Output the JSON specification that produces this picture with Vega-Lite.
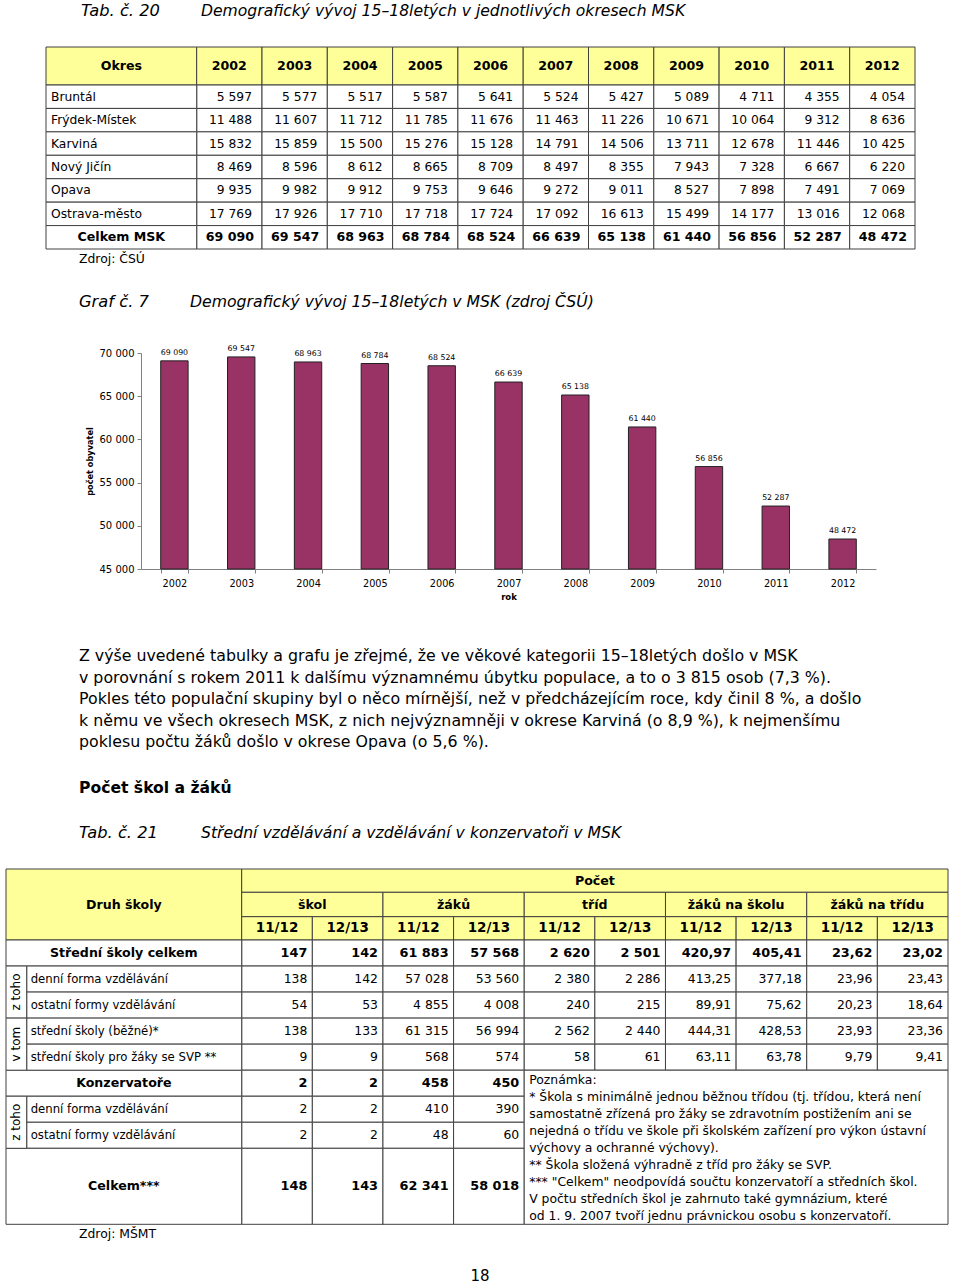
{
  "$schema": "https://vega.github.io/schema/vega-lite/v6.json",
  "width": 960,
  "height": 1286,
  "padding": 0,
  "autosize": {"type": "none"},
  "background": "#ffffff",
  "config": {
    "view": {"stroke": null},
    "font": "DejaVu Sans",
    "text": {"font": "DejaVu Sans", "color": "#000000", "baseline": "middle"},
    "locale": {"number": {"decimal": ",", "thousands": " ", "grouping": [3], "currency": ["", " Kč"]}}
  },
  "datasets": {
    "titulky": [
      {"cislo": "Tab. č. 20", "nazev": "Demografický vývoj 15–18letých v jednotlivých okresech MSK"},
      {"cislo": "Graf č. 7", "nazev": "Demografický vývoj 15–18letých v MSK (zdroj ČSÚ)"},
      {"cislo": "Tab. č. 21", "nazev": "Střední vzdělávání a vzdělávání v konzervatoři v MSK"}
    ],
    "zdroje": [{"zdroj": "Zdroj: ČSÚ"}, {"zdroj": "Zdroj: MŠMT"}],
    "nadpisy": [{"nadpis": "Počet škol a žáků"}],
    "strana": [{"strana": "18"}],
    "zahlavi20": [
      {"radek": "záhlaví", "sloupec": "Okres"},
      {"radek": "záhlaví", "sloupec": "2002"}, {"radek": "záhlaví", "sloupec": "2003"},
      {"radek": "záhlaví", "sloupec": "2004"}, {"radek": "záhlaví", "sloupec": "2005"},
      {"radek": "záhlaví", "sloupec": "2006"}, {"radek": "záhlaví", "sloupec": "2007"},
      {"radek": "záhlaví", "sloupec": "2008"}, {"radek": "záhlaví", "sloupec": "2009"},
      {"radek": "záhlaví", "sloupec": "2010"}, {"radek": "záhlaví", "sloupec": "2011"},
      {"radek": "záhlaví", "sloupec": "2012"}
    ],
    "t20": [
      {"okres": "Bruntál", "rok": "2002", "pocet": 5597}, {"okres": "Bruntál", "rok": "2003", "pocet": 5577},
      {"okres": "Bruntál", "rok": "2004", "pocet": 5517}, {"okres": "Bruntál", "rok": "2005", "pocet": 5587},
      {"okres": "Bruntál", "rok": "2006", "pocet": 5641}, {"okres": "Bruntál", "rok": "2007", "pocet": 5524},
      {"okres": "Bruntál", "rok": "2008", "pocet": 5427}, {"okres": "Bruntál", "rok": "2009", "pocet": 5089},
      {"okres": "Bruntál", "rok": "2010", "pocet": 4711}, {"okres": "Bruntál", "rok": "2011", "pocet": 4355},
      {"okres": "Bruntál", "rok": "2012", "pocet": 4054},
      {"okres": "Frýdek-Místek", "rok": "2002", "pocet": 11488}, {"okres": "Frýdek-Místek", "rok": "2003", "pocet": 11607},
      {"okres": "Frýdek-Místek", "rok": "2004", "pocet": 11712}, {"okres": "Frýdek-Místek", "rok": "2005", "pocet": 11785},
      {"okres": "Frýdek-Místek", "rok": "2006", "pocet": 11676}, {"okres": "Frýdek-Místek", "rok": "2007", "pocet": 11463},
      {"okres": "Frýdek-Místek", "rok": "2008", "pocet": 11226}, {"okres": "Frýdek-Místek", "rok": "2009", "pocet": 10671},
      {"okres": "Frýdek-Místek", "rok": "2010", "pocet": 10064}, {"okres": "Frýdek-Místek", "rok": "2011", "pocet": 9312},
      {"okres": "Frýdek-Místek", "rok": "2012", "pocet": 8636},
      {"okres": "Karviná", "rok": "2002", "pocet": 15832}, {"okres": "Karviná", "rok": "2003", "pocet": 15859},
      {"okres": "Karviná", "rok": "2004", "pocet": 15500}, {"okres": "Karviná", "rok": "2005", "pocet": 15276},
      {"okres": "Karviná", "rok": "2006", "pocet": 15128}, {"okres": "Karviná", "rok": "2007", "pocet": 14791},
      {"okres": "Karviná", "rok": "2008", "pocet": 14506}, {"okres": "Karviná", "rok": "2009", "pocet": 13711},
      {"okres": "Karviná", "rok": "2010", "pocet": 12678}, {"okres": "Karviná", "rok": "2011", "pocet": 11446},
      {"okres": "Karviná", "rok": "2012", "pocet": 10425},
      {"okres": "Nový Jičín", "rok": "2002", "pocet": 8469}, {"okres": "Nový Jičín", "rok": "2003", "pocet": 8596},
      {"okres": "Nový Jičín", "rok": "2004", "pocet": 8612}, {"okres": "Nový Jičín", "rok": "2005", "pocet": 8665},
      {"okres": "Nový Jičín", "rok": "2006", "pocet": 8709}, {"okres": "Nový Jičín", "rok": "2007", "pocet": 8497},
      {"okres": "Nový Jičín", "rok": "2008", "pocet": 8355}, {"okres": "Nový Jičín", "rok": "2009", "pocet": 7943},
      {"okres": "Nový Jičín", "rok": "2010", "pocet": 7328}, {"okres": "Nový Jičín", "rok": "2011", "pocet": 6667},
      {"okres": "Nový Jičín", "rok": "2012", "pocet": 6220},
      {"okres": "Opava", "rok": "2002", "pocet": 9935}, {"okres": "Opava", "rok": "2003", "pocet": 9982},
      {"okres": "Opava", "rok": "2004", "pocet": 9912}, {"okres": "Opava", "rok": "2005", "pocet": 9753},
      {"okres": "Opava", "rok": "2006", "pocet": 9646}, {"okres": "Opava", "rok": "2007", "pocet": 9272},
      {"okres": "Opava", "rok": "2008", "pocet": 9011}, {"okres": "Opava", "rok": "2009", "pocet": 8527},
      {"okres": "Opava", "rok": "2010", "pocet": 7898}, {"okres": "Opava", "rok": "2011", "pocet": 7491},
      {"okres": "Opava", "rok": "2012", "pocet": 7069},
      {"okres": "Ostrava-město", "rok": "2002", "pocet": 17769}, {"okres": "Ostrava-město", "rok": "2003", "pocet": 17926},
      {"okres": "Ostrava-město", "rok": "2004", "pocet": 17710}, {"okres": "Ostrava-město", "rok": "2005", "pocet": 17718},
      {"okres": "Ostrava-město", "rok": "2006", "pocet": 17724}, {"okres": "Ostrava-město", "rok": "2007", "pocet": 17092},
      {"okres": "Ostrava-město", "rok": "2008", "pocet": 16613}, {"okres": "Ostrava-město", "rok": "2009", "pocet": 15499},
      {"okres": "Ostrava-město", "rok": "2010", "pocet": 14177}, {"okres": "Ostrava-město", "rok": "2011", "pocet": 13016},
      {"okres": "Ostrava-město", "rok": "2012", "pocet": 12068},
      {"okres": "Celkem MSK", "rok": "2002", "pocet": 69090}, {"okres": "Celkem MSK", "rok": "2003", "pocet": 69547},
      {"okres": "Celkem MSK", "rok": "2004", "pocet": 68963}, {"okres": "Celkem MSK", "rok": "2005", "pocet": 68784},
      {"okres": "Celkem MSK", "rok": "2006", "pocet": 68524}, {"okres": "Celkem MSK", "rok": "2007", "pocet": 66639},
      {"okres": "Celkem MSK", "rok": "2008", "pocet": 65138}, {"okres": "Celkem MSK", "rok": "2009", "pocet": 61440},
      {"okres": "Celkem MSK", "rok": "2010", "pocet": 56856}, {"okres": "Celkem MSK", "rok": "2011", "pocet": 52287},
      {"okres": "Celkem MSK", "rok": "2012", "pocet": 48472}
    ],
    "odstavec": [
      {"odstavec": 1, "radek": 1, "text": "Z výše uvedené tabulky a grafu je zřejmé, že ve věkové kategorii 15–18letých došlo v MSK"},
      {"odstavec": 1, "radek": 2, "text": "v porovnání s rokem 2011 k dalšímu významnému úbytku populace, a to o 3 815 osob (7,3 %)."},
      {"odstavec": 1, "radek": 3, "text": "Pokles této populační skupiny byl o něco mírnější, než v předcházejícím roce, kdy činil 8 %, a došlo"},
      {"odstavec": 1, "radek": 4, "text": "k němu ve všech okresech MSK, z nich nejvýznamněji v okrese Karviná (o 8,9 %), k nejmenšímu"},
      {"odstavec": 1, "radek": 5, "text": "poklesu počtu žáků došlo v okrese Opava (o 5,6 %)."}
    ],
    "zahlavi21": [{"zahlavi": "Druh školy"}, {"zahlavi": "Počet"}],
    "ukazatele21": [
      {"uroven": "ukazatel", "ukazatel": "škol"}, {"uroven": "ukazatel", "ukazatel": "žáků"},
      {"uroven": "ukazatel", "ukazatel": "tříd"}, {"uroven": "ukazatel", "ukazatel": "žáků na školu"},
      {"uroven": "ukazatel", "ukazatel": "žáků na třídu"}
    ],
    "obdobi21": [
      {"uroven": "období", "sloupec": "škol 11/12", "obdobi": "11/12"}, {"uroven": "období", "sloupec": "škol 12/13", "obdobi": "12/13"},
      {"uroven": "období", "sloupec": "žáků 11/12", "obdobi": "11/12"}, {"uroven": "období", "sloupec": "žáků 12/13", "obdobi": "12/13"},
      {"uroven": "období", "sloupec": "tříd 11/12", "obdobi": "11/12"}, {"uroven": "období", "sloupec": "tříd 12/13", "obdobi": "12/13"},
      {"uroven": "období", "sloupec": "žáků na školu 11/12", "obdobi": "11/12"}, {"uroven": "období", "sloupec": "žáků na školu 12/13", "obdobi": "12/13"},
      {"uroven": "období", "sloupec": "žáků na třídu 11/12", "obdobi": "11/12"}, {"uroven": "období", "sloupec": "žáků na třídu 12/13", "obdobi": "12/13"}
    ],
    "druhy21": [
      {"radek": 1, "celek": "Střední školy", "druh": "Střední školy celkem"},
      {"radek": 2, "celek": "Střední školy", "cleneni": "z toho", "druh": "denní forma vzdělávání"},
      {"radek": 3, "celek": "Střední školy", "cleneni": "z toho", "druh": "ostatní formy vzdělávání"},
      {"radek": 4, "celek": "Střední školy", "cleneni": "v tom", "druh": "střední školy (běžné)*"},
      {"radek": 5, "celek": "Střední školy", "cleneni": "v tom", "druh": "střední školy pro žáky se SVP **"},
      {"radek": 6, "celek": "Konzervatoře", "druh": "Konzervatoře"},
      {"radek": 7, "celek": "Konzervatoře", "cleneni": "z toho", "druh": "denní forma vzdělávání"},
      {"radek": 8, "celek": "Konzervatoře", "cleneni": "z toho", "druh": "ostatní formy vzdělávání"},
      {"radek": 9, "celek": "Celkem", "druh": "Celkem***"}
    ],
    "t21": [
      {"radek": 1, "sloupec": "škol 11/12", "hodnota": 147}, {"radek": 1, "sloupec": "škol 12/13", "hodnota": 142},
      {"radek": 1, "sloupec": "žáků 11/12", "hodnota": 61883}, {"radek": 1, "sloupec": "žáků 12/13", "hodnota": 57568},
      {"radek": 1, "sloupec": "tříd 11/12", "hodnota": 2620}, {"radek": 1, "sloupec": "tříd 12/13", "hodnota": 2501},
      {"radek": 1, "sloupec": "žáků na školu 11/12", "hodnota": 420.97}, {"radek": 1, "sloupec": "žáků na školu 12/13", "hodnota": 405.41},
      {"radek": 1, "sloupec": "žáků na třídu 11/12", "hodnota": 23.62}, {"radek": 1, "sloupec": "žáků na třídu 12/13", "hodnota": 23.02},
      {"radek": 2, "sloupec": "škol 11/12", "hodnota": 138}, {"radek": 2, "sloupec": "škol 12/13", "hodnota": 142},
      {"radek": 2, "sloupec": "žáků 11/12", "hodnota": 57028}, {"radek": 2, "sloupec": "žáků 12/13", "hodnota": 53560},
      {"radek": 2, "sloupec": "tříd 11/12", "hodnota": 2380}, {"radek": 2, "sloupec": "tříd 12/13", "hodnota": 2286},
      {"radek": 2, "sloupec": "žáků na školu 11/12", "hodnota": 413.25}, {"radek": 2, "sloupec": "žáků na školu 12/13", "hodnota": 377.18},
      {"radek": 2, "sloupec": "žáků na třídu 11/12", "hodnota": 23.96}, {"radek": 2, "sloupec": "žáků na třídu 12/13", "hodnota": 23.43},
      {"radek": 3, "sloupec": "škol 11/12", "hodnota": 54}, {"radek": 3, "sloupec": "škol 12/13", "hodnota": 53},
      {"radek": 3, "sloupec": "žáků 11/12", "hodnota": 4855}, {"radek": 3, "sloupec": "žáků 12/13", "hodnota": 4008},
      {"radek": 3, "sloupec": "tříd 11/12", "hodnota": 240}, {"radek": 3, "sloupec": "tříd 12/13", "hodnota": 215},
      {"radek": 3, "sloupec": "žáků na školu 11/12", "hodnota": 89.91}, {"radek": 3, "sloupec": "žáků na školu 12/13", "hodnota": 75.62},
      {"radek": 3, "sloupec": "žáků na třídu 11/12", "hodnota": 20.23}, {"radek": 3, "sloupec": "žáků na třídu 12/13", "hodnota": 18.64},
      {"radek": 4, "sloupec": "škol 11/12", "hodnota": 138}, {"radek": 4, "sloupec": "škol 12/13", "hodnota": 133},
      {"radek": 4, "sloupec": "žáků 11/12", "hodnota": 61315}, {"radek": 4, "sloupec": "žáků 12/13", "hodnota": 56994},
      {"radek": 4, "sloupec": "tříd 11/12", "hodnota": 2562}, {"radek": 4, "sloupec": "tříd 12/13", "hodnota": 2440},
      {"radek": 4, "sloupec": "žáků na školu 11/12", "hodnota": 444.31}, {"radek": 4, "sloupec": "žáků na školu 12/13", "hodnota": 428.53},
      {"radek": 4, "sloupec": "žáků na třídu 11/12", "hodnota": 23.93}, {"radek": 4, "sloupec": "žáků na třídu 12/13", "hodnota": 23.36},
      {"radek": 5, "sloupec": "škol 11/12", "hodnota": 9}, {"radek": 5, "sloupec": "škol 12/13", "hodnota": 9},
      {"radek": 5, "sloupec": "žáků 11/12", "hodnota": 568}, {"radek": 5, "sloupec": "žáků 12/13", "hodnota": 574},
      {"radek": 5, "sloupec": "tříd 11/12", "hodnota": 58}, {"radek": 5, "sloupec": "tříd 12/13", "hodnota": 61},
      {"radek": 5, "sloupec": "žáků na školu 11/12", "hodnota": 63.11}, {"radek": 5, "sloupec": "žáků na školu 12/13", "hodnota": 63.78},
      {"radek": 5, "sloupec": "žáků na třídu 11/12", "hodnota": 9.79}, {"radek": 5, "sloupec": "žáků na třídu 12/13", "hodnota": 9.41},
      {"radek": 6, "sloupec": "škol 11/12", "hodnota": 2}, {"radek": 6, "sloupec": "škol 12/13", "hodnota": 2},
      {"radek": 6, "sloupec": "žáků 11/12", "hodnota": 458}, {"radek": 6, "sloupec": "žáků 12/13", "hodnota": 450},
      {"radek": 7, "sloupec": "škol 11/12", "hodnota": 2}, {"radek": 7, "sloupec": "škol 12/13", "hodnota": 2},
      {"radek": 7, "sloupec": "žáků 11/12", "hodnota": 410}, {"radek": 7, "sloupec": "žáků 12/13", "hodnota": 390},
      {"radek": 8, "sloupec": "škol 11/12", "hodnota": 2}, {"radek": 8, "sloupec": "škol 12/13", "hodnota": 2},
      {"radek": 8, "sloupec": "žáků 11/12", "hodnota": 48}, {"radek": 8, "sloupec": "žáků 12/13", "hodnota": 60},
      {"radek": 9, "sloupec": "škol 11/12", "hodnota": 148}, {"radek": 9, "sloupec": "škol 12/13", "hodnota": 143},
      {"radek": 9, "sloupec": "žáků 11/12", "hodnota": 62341}, {"radek": 9, "sloupec": "žáků 12/13", "hodnota": 58018}
    ],
    "poznamka": [
      {"blok": "Poznámka", "radek": 1, "text": "Poznámka:"},
      {"blok": "Poznámka", "radek": 2, "text": "* Škola s minimálně jednou běžnou třídou (tj. třídou, která není"},
      {"blok": "Poznámka", "radek": 3, "text": "samostatně zřízená pro žáky se zdravotním postižením ani se"},
      {"blok": "Poznámka", "radek": 4, "text": "nejedná o třídu ve škole při školském zařízení pro výkon ústavní"},
      {"blok": "Poznámka", "radek": 5, "text": "výchovy a ochranné výchovy)."},
      {"blok": "Poznámka", "radek": 6, "text": "** Škola složená výhradně z tříd pro žáky se SVP."},
      {"blok": "Poznámka", "radek": 7, "text": "*** \"Celkem\" neodpovídá součtu konzervatoří a středních škol."},
      {"blok": "Poznámka", "radek": 8, "text": "V počtu středních škol je zahrnuto také gymnázium, které"},
      {"blok": "Poznámka", "radek": 9, "text": "od 1. 9. 2007 tvoří jednu právnickou osobu s konzervatoří."}
    ]
  },
  "resolve": {"scale": {"x": "independent", "y": "independent"}},
  "layer": [
    {
      "data": {"name": "titulky"},
      "transform": [{"filter": "datum.cislo === 'Tab. č. 20'"}],
      "encoding": {"y": {"field": "cislo", "type": "nominal", "scale": {"type": "band", "domain": ["Tab. č. 20"], "range": [0, 22], "padding": 0}, "axis": null}},
      "layer": [
        {"mark": {"type": "text", "align": "left", "fontStyle": "italic", "fontSize": 16.3},
         "encoding": {"x": {"field": "cislo", "type": "nominal", "bandPosition": 0, "scale": {"type": "band", "domain": ["Tab. č. 20"], "range": [81, 201], "padding": 0}, "axis": null}, "text": {"field": "cislo"}}},
        {"mark": {"type": "text", "align": "left", "fontStyle": "italic", "fontSize": 15.6},
         "encoding": {"x": {"field": "cislo", "type": "nominal", "bandPosition": 0, "scale": {"type": "band", "domain": ["Tab. č. 20"], "range": [201, 900], "padding": 0}, "axis": null}, "text": {"field": "nazev"}}}
      ],
      "resolve": {"scale": {"x": "independent"}}
    },
    {
      "data": {"name": "zahlavi20"},
      "transform": [{"filter": "datum.sloupec === 'Okres'"}],
      "encoding": {
        "x": {"field": "sloupec", "type": "nominal", "scale": {"type": "band", "domain": ["Okres"], "range": [46, 196.7], "padding": 0}, "axis": null},
        "y": {"field": "radek", "type": "nominal", "scale": {"type": "band", "domain": ["záhlaví"], "range": [47, 85], "padding": 0}, "axis": null}
      },
      "layer": [
        {"mark": {"type": "rect", "fill": "#FFFF99", "stroke": "#404040", "strokeWidth": 1}},
        {"mark": {"type": "text", "fontWeight": "bold", "fontSize": 12.6}, "encoding": {"text": {"field": "sloupec"}}}
      ]
    },
    {
      "data": {"name": "zahlavi20"},
      "transform": [{"filter": "datum.sloupec !== 'Okres'"}],
      "encoding": {
        "x": {"field": "sloupec", "type": "nominal", "scale": {"type": "band", "domain": ["2002","2003","2004","2005","2006","2007","2008","2009","2010","2011","2012"], "range": [196.7, 915], "padding": 0}, "axis": null},
        "y": {"field": "radek", "type": "nominal", "scale": {"type": "band", "domain": ["záhlaví"], "range": [47, 85], "padding": 0}, "axis": null}
      },
      "layer": [
        {"mark": {"type": "rect", "fill": "#FFFF99", "stroke": "#404040", "strokeWidth": 1}},
        {"mark": {"type": "text", "fontWeight": "bold", "fontSize": 12.6}, "encoding": {"text": {"field": "sloupec"}}}
      ]
    },
    {
      "data": {"name": "t20"},
      "encoding": {
        "x": {"field": "rok", "type": "nominal", "scale": {"type": "band", "domain": ["2002","2003","2004","2005","2006","2007","2008","2009","2010","2011","2012"], "range": [196.7, 915], "padding": 0}, "axis": null},
        "y": {"field": "okres", "type": "nominal", "scale": {"type": "band", "domain": ["Bruntál","Frýdek-Místek","Karviná","Nový Jičín","Opava","Ostrava-město","Celkem MSK"], "range": [85, 249], "padding": 0}, "axis": null}
      },
      "layer": [
        {"mark": {"type": "rect", "fill": "#ffffff", "stroke": "#404040", "strokeWidth": 1}},
        {"transform": [{"filter": "datum.okres !== 'Celkem MSK'"}],
         "mark": {"type": "text", "align": "right", "dx": -10, "fontSize": 12.3},
         "encoding": {
           "x": {"field": "rok", "type": "nominal", "bandPosition": 1, "scale": {"type": "band", "domain": ["2002","2003","2004","2005","2006","2007","2008","2009","2010","2011","2012"], "range": [196.7, 915], "padding": 0}, "axis": null},
           "text": {"field": "pocet", "type": "quantitative", "format": ",d"}}},
        {"transform": [{"filter": "datum.okres === 'Celkem MSK'"}],
         "mark": {"type": "text", "align": "right", "dx": -8, "fontSize": 12.6, "fontWeight": "bold"},
         "encoding": {
           "x": {"field": "rok", "type": "nominal", "bandPosition": 1, "scale": {"type": "band", "domain": ["2002","2003","2004","2005","2006","2007","2008","2009","2010","2011","2012"], "range": [196.7, 915], "padding": 0}, "axis": null},
           "text": {"field": "pocet", "type": "quantitative", "format": ",d"}}}
      ]
    },
    {
      "data": {"name": "t20"},
      "transform": [
        {"aggregate": [{"op": "count", "as": "pocet_let"}], "groupby": ["okres"]},
        {"fold": ["okres"], "as": ["sloupec", "nazev"]}
      ],
      "encoding": {
        "x": {"field": "sloupec", "type": "nominal", "scale": {"type": "band", "domain": ["okres"], "range": [46, 196.7], "padding": 0}, "axis": null},
        "y": {"field": "nazev", "type": "nominal", "scale": {"type": "band", "domain": ["Bruntál","Frýdek-Místek","Karviná","Nový Jičín","Opava","Ostrava-město","Celkem MSK"], "range": [85, 249], "padding": 0}, "axis": null}
      },
      "layer": [
        {"mark": {"type": "rect", "fill": "#ffffff", "stroke": "#404040", "strokeWidth": 1}},
        {"transform": [{"filter": "datum.nazev !== 'Celkem MSK'"}],
         "mark": {"type": "text", "align": "left", "dx": 5, "fontSize": 12.3},
         "encoding": {
           "x": {"field": "sloupec", "type": "nominal", "bandPosition": 0, "scale": {"type": "band", "domain": ["okres"], "range": [46, 196.7], "padding": 0}, "axis": null},
           "text": {"field": "nazev"}}},
        {"transform": [{"filter": "datum.nazev === 'Celkem MSK'"}],
         "mark": {"type": "text", "fontSize": 12.6, "fontWeight": "bold"},
         "encoding": {"text": {"field": "nazev"}}}
      ]
    },
    {
      "data": {"name": "zdroje"},
      "transform": [{"filter": "datum.zdroj === 'Zdroj: ČSÚ'"}],
      "mark": {"type": "text", "align": "left", "fontSize": 12.4},
      "encoding": {
        "x": {"field": "zdroj", "type": "nominal", "bandPosition": 0, "scale": {"type": "band", "domain": ["Zdroj: ČSÚ"], "range": [79, 300], "padding": 0}, "axis": null},
        "y": {"field": "zdroj", "type": "nominal", "scale": {"type": "band", "domain": ["Zdroj: ČSÚ"], "range": [249, 269], "padding": 0}, "axis": null},
        "text": {"field": "zdroj"}
      }
    },
    {
      "data": {"name": "titulky"},
      "transform": [{"filter": "datum.cislo === 'Graf č. 7'"}],
      "encoding": {"y": {"field": "cislo", "type": "nominal", "scale": {"type": "band", "domain": ["Graf č. 7"], "range": [291, 313], "padding": 0}, "axis": null}},
      "layer": [
        {"mark": {"type": "text", "align": "left", "fontStyle": "italic", "fontSize": 16.3},
         "encoding": {"x": {"field": "cislo", "type": "nominal", "bandPosition": 0, "scale": {"type": "band", "domain": ["Graf č. 7"], "range": [79, 190], "padding": 0}, "axis": null}, "text": {"field": "cislo"}}},
        {"mark": {"type": "text", "align": "left", "fontStyle": "italic", "fontSize": 15.7},
         "encoding": {"x": {"field": "cislo", "type": "nominal", "bandPosition": 0, "scale": {"type": "band", "domain": ["Graf č. 7"], "range": [190, 900], "padding": 0}, "axis": null}, "text": {"field": "nazev"}}}
      ],
      "resolve": {"scale": {"x": "independent"}}
    },
    {
      "data": {"name": "t20"},
      "transform": [{"filter": "datum.okres === 'Celkem MSK'"}],
      "encoding": {
        "x": {"field": "rok", "type": "nominal",
              "scale": {"type": "band", "domain": ["2002","2003","2004","2005","2006","2007","2008","2009","2010","2011","2012"], "range": [141, 876], "paddingInner": 0.59, "paddingOuter": 0.295},
              "axis": {"orient": "bottom", "offset": -717, "title": "rok", "labelAngle": 0, "labelFontSize": 9.7, "labelPadding": 5, "labelColor": "#000000",
                       "tickSize": 4, "tickBand": "extent", "tickColor": "#808080", "domainColor": "#808080",
                       "titleFontSize": 8.5, "titleFontWeight": "bold", "titlePadding": 5, "titleColor": "#000000", "grid": false}},
        "y": {"field": "pocet", "type": "quantitative",
              "scale": {"domain": [45000, 70000], "range": [569, 353], "zero": false, "nice": false},
              "axis": {"orient": "left", "offset": -141, "values": [45000, 50000, 55000, 60000, 65000, 70000], "format": ",d",
                       "labelFontSize": 10, "labelPadding": 3, "labelColor": "#000000", "tickSize": 4, "tickColor": "#808080", "domainColor": "#808080",
                       "title": "počet obyvatel", "titleFontSize": 8.2, "titleFontWeight": "bold", "titlePadding": 5, "titleColor": "#000000", "grid": false}}
      },
      "layer": [
        {"mark": {"type": "bar", "fill": "#993366", "stroke": "#222222", "strokeWidth": 1}, "encoding": {"y2": {"datum": 45000}}},
        {"mark": {"type": "text", "baseline": "bottom", "dy": -4, "fontSize": 7.8}, "encoding": {"text": {"field": "pocet", "type": "quantitative", "format": ",d"}}}
      ]
    },
    {
      "data": {"name": "odstavec"},
      "mark": {"type": "text", "align": "left", "fontSize": 15.8},
      "encoding": {
        "x": {"field": "odstavec", "type": "nominal", "bandPosition": 0, "scale": {"type": "band", "domain": [1], "range": [79, 882], "padding": 0}, "axis": null},
        "y": {"field": "radek", "type": "ordinal", "scale": {"type": "band", "domain": [1, 2, 3, 4, 5], "range": [645.25, 752.75], "padding": 0}, "axis": null},
        "text": {"field": "text"}
      }
    },
    {
      "data": {"name": "nadpisy"},
      "mark": {"type": "text", "align": "left", "fontSize": 15.6, "fontWeight": "bold"},
      "encoding": {
        "x": {"field": "nadpis", "type": "nominal", "bandPosition": 0, "scale": {"type": "band", "domain": ["Počet škol a žáků"], "range": [79, 400], "padding": 0}, "axis": null},
        "y": {"field": "nadpis", "type": "nominal", "scale": {"type": "band", "domain": ["Počet škol a žáků"], "range": [777, 799], "padding": 0}, "axis": null},
        "text": {"field": "nadpis"}
      }
    },
    {
      "data": {"name": "titulky"},
      "transform": [{"filter": "datum.cislo === 'Tab. č. 21'"}],
      "encoding": {"y": {"field": "cislo", "type": "nominal", "scale": {"type": "band", "domain": ["Tab. č. 21"], "range": [822, 844], "padding": 0}, "axis": null}},
      "layer": [
        {"mark": {"type": "text", "align": "left", "fontStyle": "italic", "fontSize": 16.3},
         "encoding": {"x": {"field": "cislo", "type": "nominal", "bandPosition": 0, "scale": {"type": "band", "domain": ["Tab. č. 21"], "range": [79, 201], "padding": 0}, "axis": null}, "text": {"field": "cislo"}}},
        {"mark": {"type": "text", "align": "left", "fontStyle": "italic", "fontSize": 15.7},
         "encoding": {"x": {"field": "cislo", "type": "nominal", "bandPosition": 0, "scale": {"type": "band", "domain": ["Tab. č. 21"], "range": [201, 900], "padding": 0}, "axis": null}, "text": {"field": "nazev"}}}
      ],
      "resolve": {"scale": {"x": "independent"}}
    },
    {
      "data": {"name": "zahlavi21"},
      "transform": [{"filter": "datum.zahlavi === 'Druh školy'"}],
      "encoding": {
        "x": {"field": "zahlavi", "type": "nominal", "scale": {"type": "band", "domain": ["Druh školy"], "range": [6, 241.7], "padding": 0}, "axis": null},
        "y": {"field": "zahlavi", "type": "nominal", "scale": {"type": "band", "domain": ["Druh školy"], "range": [869, 940], "padding": 0}, "axis": null}
      },
      "layer": [
        {"mark": {"type": "rect", "fill": "#FFFF99", "stroke": "#404040", "strokeWidth": 1}},
        {"mark": {"type": "text", "fontWeight": "bold", "fontSize": 12.6}, "encoding": {"text": {"field": "zahlavi"}}}
      ]
    },
    {
      "data": {"name": "zahlavi21"},
      "transform": [{"filter": "datum.zahlavi === 'Počet'"}],
      "encoding": {
        "x": {"field": "zahlavi", "type": "nominal", "scale": {"type": "band", "domain": ["Počet"], "range": [241.7, 948], "padding": 0}, "axis": null},
        "y": {"field": "zahlavi", "type": "nominal", "scale": {"type": "band", "domain": ["Počet"], "range": [869, 892.3], "padding": 0}, "axis": null}
      },
      "layer": [
        {"mark": {"type": "rect", "fill": "#FFFF99", "stroke": "#404040", "strokeWidth": 1}},
        {"mark": {"type": "text", "fontWeight": "bold", "fontSize": 12.6}, "encoding": {"text": {"field": "zahlavi"}}}
      ]
    },
    {
      "data": {"name": "ukazatele21"},
      "encoding": {
        "x": {"field": "ukazatel", "type": "nominal", "scale": {"type": "band", "domain": ["škol", "žáků", "tříd", "žáků na školu", "žáků na třídu"], "range": [241.7, 948], "padding": 0}, "axis": null},
        "y": {"field": "uroven", "type": "nominal", "scale": {"type": "band", "domain": ["ukazatel"], "range": [892.3, 916.7], "padding": 0}, "axis": null}
      },
      "layer": [
        {"mark": {"type": "rect", "fill": "#FFFF99", "stroke": "#404040", "strokeWidth": 1}},
        {"mark": {"type": "text", "fontWeight": "bold", "fontSize": 12.6}, "encoding": {"text": {"field": "ukazatel"}}}
      ]
    },
    {
      "data": {"name": "obdobi21"},
      "encoding": {
        "x": {"field": "sloupec", "type": "nominal", "scale": {"type": "band", "domain": ["škol 11/12","škol 12/13","žáků 11/12","žáků 12/13","tříd 11/12","tříd 12/13","žáků na školu 11/12","žáků na školu 12/13","žáků na třídu 11/12","žáků na třídu 12/13"], "range": [241.7, 948], "padding": 0}, "axis": null},
        "y": {"field": "uroven", "type": "nominal", "scale": {"type": "band", "domain": ["období"], "range": [916.7, 940], "padding": 0}, "axis": null}
      },
      "layer": [
        {"mark": {"type": "rect", "fill": "#FFFF99", "stroke": "#404040", "strokeWidth": 1}},
        {"mark": {"type": "text", "fontWeight": "bold", "fontSize": 13.5}, "encoding": {"text": {"field": "obdobi"}}}
      ]
    },
    {
      "data": {"name": "t21"},
      "transform": [{"filter": "datum.radek <= 8"}],
      "encoding": {
        "x": {"field": "sloupec", "type": "nominal", "scale": {"type": "band", "domain": ["škol 11/12","škol 12/13","žáků 11/12","žáků 12/13","tříd 11/12","tříd 12/13","žáků na školu 11/12","žáků na školu 12/13","žáků na třídu 11/12","žáků na třídu 12/13"], "range": [241.7, 948], "padding": 0}, "axis": null},
        "y": {"field": "radek", "type": "ordinal", "scale": {"type": "band", "domain": [1, 2, 3, 4, 5, 6, 7, 8], "range": [940, 1148.3], "padding": 0}, "axis": null}
      },
      "layer": [
        {"mark": {"type": "rect", "fill": "#ffffff", "stroke": "#404040", "strokeWidth": 1}},
        {"transform": [{"filter": "datum.radek !== 1 && datum.radek !== 6 && indexof(datum.sloupec, ' na ') < 0"}],
         "mark": {"type": "text", "align": "right", "dx": -5, "fontSize": 12.4},
         "encoding": {
           "x": {"field": "sloupec", "type": "nominal", "bandPosition": 1, "scale": {"type": "band", "domain": ["škol 11/12","škol 12/13","žáků 11/12","žáků 12/13","tříd 11/12","tříd 12/13","žáků na školu 11/12","žáků na školu 12/13","žáků na třídu 11/12","žáků na třídu 12/13"], "range": [241.7, 948], "padding": 0}, "axis": null},
           "text": {"field": "hodnota", "type": "quantitative", "format": ",d"}}},
        {"transform": [{"filter": "datum.radek !== 1 && datum.radek !== 6 && indexof(datum.sloupec, ' na ') >= 0"}],
         "mark": {"type": "text", "align": "right", "dx": -5, "fontSize": 12.4},
         "encoding": {
           "x": {"field": "sloupec", "type": "nominal", "bandPosition": 1, "scale": {"type": "band", "domain": ["škol 11/12","škol 12/13","žáků 11/12","žáků 12/13","tříd 11/12","tříd 12/13","žáků na školu 11/12","žáků na školu 12/13","žáků na třídu 11/12","žáků na třídu 12/13"], "range": [241.7, 948], "padding": 0}, "axis": null},
           "text": {"field": "hodnota", "type": "quantitative", "format": ".2f"}}},
        {"transform": [{"filter": "(datum.radek === 1 || datum.radek === 6) && indexof(datum.sloupec, ' na ') < 0"}],
         "mark": {"type": "text", "align": "right", "dx": -5, "fontSize": 12.8, "fontWeight": "bold"},
         "encoding": {
           "x": {"field": "sloupec", "type": "nominal", "bandPosition": 1, "scale": {"type": "band", "domain": ["škol 11/12","škol 12/13","žáků 11/12","žáků 12/13","tříd 11/12","tříd 12/13","žáků na školu 11/12","žáků na školu 12/13","žáků na třídu 11/12","žáků na třídu 12/13"], "range": [241.7, 948], "padding": 0}, "axis": null},
           "text": {"field": "hodnota", "type": "quantitative", "format": ",d"}}},
        {"transform": [{"filter": "(datum.radek === 1 || datum.radek === 6) && indexof(datum.sloupec, ' na ') >= 0"}],
         "mark": {"type": "text", "align": "right", "dx": -5, "fontSize": 12.8, "fontWeight": "bold"},
         "encoding": {
           "x": {"field": "sloupec", "type": "nominal", "bandPosition": 1, "scale": {"type": "band", "domain": ["škol 11/12","škol 12/13","žáků 11/12","žáků 12/13","tříd 11/12","tříd 12/13","žáků na školu 11/12","žáků na školu 12/13","žáků na třídu 11/12","žáků na třídu 12/13"], "range": [241.7, 948], "padding": 0}, "axis": null},
           "text": {"field": "hodnota", "type": "quantitative", "format": ".2f"}}}
      ]
    },
    {
      "data": {"name": "t21"},
      "transform": [{"filter": "datum.radek === 9"}],
      "encoding": {
        "x": {"field": "sloupec", "type": "nominal", "scale": {"type": "band", "domain": ["škol 11/12","škol 12/13","žáků 11/12","žáků 12/13","tříd 11/12","tříd 12/13","žáků na školu 11/12","žáků na školu 12/13","žáků na třídu 11/12","žáků na třídu 12/13"], "range": [241.7, 948], "padding": 0}, "axis": null},
        "y": {"field": "radek", "type": "ordinal", "scale": {"type": "band", "domain": [9], "range": [1148.3, 1224.3], "padding": 0}, "axis": null}
      },
      "layer": [
        {"mark": {"type": "rect", "fill": "#ffffff", "stroke": "#404040", "strokeWidth": 1}},
        {"mark": {"type": "text", "align": "right", "dx": -5, "fontSize": 12.8, "fontWeight": "bold"},
         "encoding": {
           "x": {"field": "sloupec", "type": "nominal", "bandPosition": 1, "scale": {"type": "band", "domain": ["škol 11/12","škol 12/13","žáků 11/12","žáků 12/13","tříd 11/12","tříd 12/13","žáků na školu 11/12","žáků na školu 12/13","žáků na třídu 11/12","žáků na třídu 12/13"], "range": [241.7, 948], "padding": 0}, "axis": null},
           "text": {"field": "hodnota", "type": "quantitative", "format": ",d"}}}
      ]
    },
    {
      "data": {"name": "druhy21"},
      "transform": [{"filter": "!isValid(datum.cleneni) && datum.radek <= 8"}, {"fold": ["druh"], "as": ["pole", "nazev"]}],
      "encoding": {
        "x": {"field": "pole", "type": "nominal", "scale": {"type": "band", "domain": ["druh"], "range": [6, 241.7], "padding": 0}, "axis": null},
        "y": {"field": "radek", "type": "ordinal", "scale": {"type": "band", "domain": [1, 2, 3, 4, 5, 6, 7, 8], "range": [940, 1148.3], "padding": 0}, "axis": null}
      },
      "layer": [
        {"mark": {"type": "rect", "fill": "#ffffff", "stroke": "#404040", "strokeWidth": 1}},
        {"mark": {"type": "text", "fontSize": 12.6, "fontWeight": "bold"}, "encoding": {"text": {"field": "nazev"}}}
      ]
    },
    {
      "data": {"name": "druhy21"},
      "transform": [{"filter": "isValid(datum.cleneni)"}, {"fold": ["druh"], "as": ["pole", "nazev"]}],
      "encoding": {
        "x": {"field": "pole", "type": "nominal", "scale": {"type": "band", "domain": ["druh"], "range": [26.7, 241.7], "padding": 0}, "axis": null},
        "y": {"field": "radek", "type": "ordinal", "scale": {"type": "band", "domain": [1, 2, 3, 4, 5, 6, 7, 8], "range": [940, 1148.3], "padding": 0}, "axis": null}
      },
      "layer": [
        {"mark": {"type": "rect", "fill": "#ffffff", "stroke": "#404040", "strokeWidth": 1}},
        {"mark": {"type": "text", "align": "left", "dx": 4, "fontSize": 11.7},
         "encoding": {
           "x": {"field": "pole", "type": "nominal", "bandPosition": 0, "scale": {"type": "band", "domain": ["druh"], "range": [26.7, 241.7], "padding": 0}, "axis": null},
           "text": {"field": "nazev"}}}
      ]
    },
    {
      "data": {"name": "druhy21"},
      "transform": [{"filter": "datum.radek === 9"}, {"fold": ["druh"], "as": ["pole", "nazev"]}],
      "encoding": {
        "x": {"field": "pole", "type": "nominal", "scale": {"type": "band", "domain": ["druh"], "range": [6, 241.7], "padding": 0}, "axis": null},
        "y": {"field": "radek", "type": "ordinal", "scale": {"type": "band", "domain": [9], "range": [1148.3, 1224.3], "padding": 0}, "axis": null}
      },
      "layer": [
        {"mark": {"type": "rect", "fill": "#ffffff", "stroke": "#404040", "strokeWidth": 1}},
        {"mark": {"type": "text", "fontSize": 12.6, "fontWeight": "bold"}, "encoding": {"text": {"field": "nazev"}}}
      ]
    },
    {
      "data": {"name": "druhy21"},
      "transform": [
        {"filter": "isValid(datum.cleneni) && datum.celek === 'Střední školy'"},
        {"aggregate": [{"op": "count", "as": "pocet_radku"}], "groupby": ["cleneni"]},
        {"fold": ["cleneni"], "as": ["pole", "nazev"]}
      ],
      "encoding": {
        "x": {"field": "pole", "type": "nominal", "scale": {"type": "band", "domain": ["cleneni"], "range": [6, 26.7], "padding": 0}, "axis": null},
        "y": {"field": "nazev", "type": "nominal", "scale": {"type": "band", "domain": ["z toho", "v tom"], "range": [966.04, 1070.19], "padding": 0}, "axis": null}
      },
      "layer": [
        {"mark": {"type": "rect", "fill": "#ffffff", "stroke": "#404040", "strokeWidth": 1}},
        {"mark": {"type": "text", "angle": 270, "fontSize": 12}, "encoding": {"text": {"field": "nazev"}}}
      ]
    },
    {
      "data": {"name": "druhy21"},
      "transform": [
        {"filter": "isValid(datum.cleneni) && datum.celek === 'Konzervatoře'"},
        {"aggregate": [{"op": "count", "as": "pocet_radku"}], "groupby": ["cleneni"]},
        {"fold": ["cleneni"], "as": ["pole", "nazev"]}
      ],
      "encoding": {
        "x": {"field": "pole", "type": "nominal", "scale": {"type": "band", "domain": ["cleneni"], "range": [6, 26.7], "padding": 0}, "axis": null},
        "y": {"field": "nazev", "type": "nominal", "scale": {"type": "band", "domain": ["z toho"], "range": [1096.2, 1148.3], "padding": 0}, "axis": null}
      },
      "layer": [
        {"mark": {"type": "rect", "fill": "#ffffff", "stroke": "#404040", "strokeWidth": 1}},
        {"mark": {"type": "text", "angle": 270, "fontSize": 12}, "encoding": {"text": {"field": "nazev"}}}
      ]
    },
    {
      "data": {"name": "poznamka"},
      "transform": [{"aggregate": [{"op": "count", "as": "pocet_radku"}], "groupby": ["blok"]}],
      "mark": {"type": "rect", "fill": "#ffffff", "stroke": "#404040", "strokeWidth": 1},
      "encoding": {
        "x": {"field": "blok", "type": "nominal", "scale": {"type": "band", "domain": ["Poznámka"], "range": [524.2, 948], "padding": 0}, "axis": null},
        "y": {"field": "blok", "type": "nominal", "scale": {"type": "band", "domain": ["Poznámka"], "range": [1070.2, 1224.3], "padding": 0}, "axis": null}
      }
    },
    {
      "data": {"name": "poznamka"},
      "mark": {"type": "text", "align": "left", "dx": 5, "fontSize": 12.4},
      "encoding": {
        "x": {"field": "blok", "type": "nominal", "bandPosition": 0, "scale": {"type": "band", "domain": ["Poznámka"], "range": [524.2, 948], "padding": 0}, "axis": null},
        "y": {"field": "radek", "type": "ordinal", "scale": {"type": "band", "domain": [1, 2, 3, 4, 5, 6, 7, 8, 9], "range": [1071.5, 1224.5], "padding": 0}, "axis": null},
        "text": {"field": "text"}
      }
    },
    {
      "data": {"name": "zdroje"},
      "transform": [{"filter": "datum.zdroj === 'Zdroj: MŠMT'"}],
      "mark": {"type": "text", "align": "left", "fontSize": 12.4},
      "encoding": {
        "x": {"field": "zdroj", "type": "nominal", "bandPosition": 0, "scale": {"type": "band", "domain": ["Zdroj: MŠMT"], "range": [79, 300], "padding": 0}, "axis": null},
        "y": {"field": "zdroj", "type": "nominal", "scale": {"type": "band", "domain": ["Zdroj: MŠMT"], "range": [1224, 1244], "padding": 0}, "axis": null},
        "text": {"field": "zdroj"}
      }
    },
    {
      "data": {"name": "strana"},
      "mark": {"type": "text", "fontSize": 15},
      "encoding": {
        "x": {"field": "strana", "type": "nominal", "scale": {"type": "band", "domain": ["18"], "range": [470, 490], "padding": 0}, "axis": null},
        "y": {"field": "strana", "type": "nominal", "scale": {"type": "band", "domain": ["18"], "range": [1266, 1286], "padding": 0}, "axis": null},
        "text": {"field": "strana"}
      }
    }
  ]
}
